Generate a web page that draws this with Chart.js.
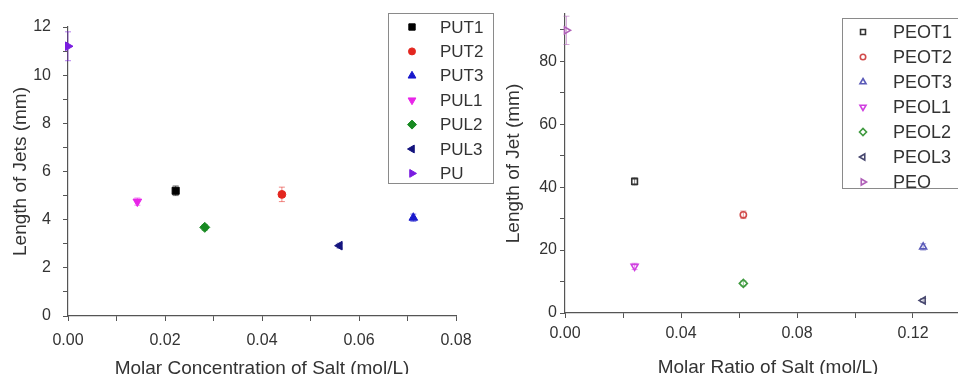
<!DOCTYPE html>
<html>
<head>
<meta charset="utf-8">
<script src="https://cdn.jsdelivr.net/npm/chart.js@4/dist/chart.umd.min.js"></script>
<style>
  html, body { margin: 0; padding: 0; background: #fff; }
  body { width: 958px; height: 374px; overflow: hidden; position: relative; }
  canvas { position: absolute; top: 0; }
  #left { left: 0; }
  #right { left: 480px; }
</style>
</head>
<body>
<canvas id="left" width="500" height="384"></canvas>
<canvas id="right" width="520" height="384"></canvas>
<script>
// left panel: PU fibres, molar concentration vs jet length
const puLabels = ['PUT1', 'PUT2', 'PUT3', 'PUL1', 'PUL2', 'PUL3', 'PU'];
const puX = [0.0222, 0.0441, 0.0712, 0.0143, 0.0282, 0.0560, 0.0];
const puY = [5.2, 5.05, 4.08, 4.75, 3.68, 2.92, 11.2];
const puErr = [0.2, 0.3, 0.15, 0.15, 0.12, 0.1, 0.6];
const puColors = ['#000000', '#e3261f', '#1818cc', '#e825e8', '#188a22', '#14147e', '#7a1ce0'];
const puStyles = ['rect', 'circle', 'triangle', 'triangle', 'rectRot', 'triangle', 'triangle'];
const puRot = [0, 0, 0, 180, 0, -90, 90];

// right panel: PEO fibres, molar ratio vs jet length
const peoLabels = ['PEOT1', 'PEOT2', 'PEOT3', 'PEOL1', 'PEOL2', 'PEOL3', 'PEO'];
const peoX = [0.024, 0.0615, 0.1235, 0.024, 0.0615, 0.1235, 0.0005];
const peoY = [41.8, 31.2, 21.0, 14.8, 9.4, 4.0, 89.8];
const peoErr = [1.2, 1.2, 1.0, 1.0, 0.8, 0.6, 4.5];
const peoColors = ['#333333', '#d14a4a', '#5a5ab8', '#d040e0', '#3f9a3f', '#46466e', '#b060b8'];
const peoStyles = ['rect', 'circle', 'triangle', 'triangle', 'rectRot', 'triangle', 'triangle'];
const peoRot = [0, 0, 0, 180, 0, -90, 90];

const FONT = 'Liberation Sans, Arial, sans-serif';
const TXT = '#333';
const AX = '#555';

Chart.defaults.font.family = FONT;
Chart.defaults.color = TXT;

// circles look bigger than the other shapes at the same radius
const sizeFor = (style, r) => style === 'circle' ? r * 0.78 : r;

function buildSets(labels, xs, ys, colors, styles, rots, filled, radius) {
  return labels.map((l, i) => ({
    label: l,
    data: [{ x: xs[i], y: ys[i] }],
    pointStyle: styles[i],
    rotation: rots[i],
    pointRadius: sizeFor(styles[i], radius),
    pointBorderWidth: filled ? 1 : 1.6,
    borderColor: colors[i],
    backgroundColor: filled ? colors[i] : 'rgba(255,255,255,0)',
    showLine: false,
    clip: false
  }));
}

// small vertical error bars under the markers
const errorBars = {
  id: 'errorBars',
  beforeDatasetsDraw(chart, args, opts) {
    const ctx = chart.ctx;
    const y = chart.scales.y;
    ctx.save();
    chart.data.datasets.forEach((ds, i) => {
      const meta = chart.getDatasetMeta(i);
      meta.data.forEach((pt, j) => {
        const v = ds.data[j].y, e = opts.errors[i];
        const y1 = y.getPixelForValue(v - e), y2 = y.getPixelForValue(v + e);
        ctx.strokeStyle = ds.borderColor;
        ctx.globalAlpha = 0.55;
        ctx.lineWidth = 1;
        ctx.beginPath();
        ctx.moveTo(pt.x, y1); ctx.lineTo(pt.x, y2);
        ctx.moveTo(pt.x - 3, y1); ctx.lineTo(pt.x + 3, y1);
        ctx.moveTo(pt.x - 3, y2); ctx.lineTo(pt.x + 3, y2);
        ctx.stroke();
      });
    });
    ctx.restore();
  }
};

// boxed legend sitting in the upper right of the plot
const boxLegend = {
  id: 'boxLegend',
  afterDraw(chart, args, o) {
    const ctx = chart.ctx;
    const a = chart.chartArea;
    const x0 = a.right + o.dx, y0 = o.top;
    ctx.save();
    ctx.strokeStyle = '#8a8a8a';
    ctx.lineWidth = 1;
    ctx.strokeRect(x0 + 0.5, y0 + 0.5, o.w, o.h);
    ctx.font = o.size + 'px ' + FONT;
    ctx.textBaseline = 'middle';
    chart.data.datasets.forEach((ds, i) => {
      const cy = y0 + o.first + i * o.step;
      ctx.fillStyle = ds.backgroundColor;
      ctx.strokeStyle = ds.borderColor;
      ctx.lineWidth = ds.pointBorderWidth;
      Chart.helpers.drawPoint(ctx, {
        pointStyle: ds.pointStyle, rotation: ds.rotation,
        radius: sizeFor(ds.pointStyle, o.r), borderWidth: ds.pointBorderWidth
      }, x0 + o.mx, cy);
      ctx.fillStyle = TXT;
      ctx.fillText(ds.label, x0 + o.tx, cy + 1);
    });
    ctx.restore();
  }
};

function axis(min, max, step, labelEvery, digits, tickPad, title, titlePad, size, fixed, isX) {
  return {
    type: 'linear',
    min: min, max: max,
    border: { color: AX, width: 1.2 },
    grid: { drawOnChartArea: false, drawTicks: true, tickLength: 5, color: AX },
    afterBuildTicks: s => {
      const t = [];
      for (let v = min; v <= max + 1e-9; v += step) t.push({ value: +v.toFixed(6) });
      s.ticks = t;
    },
    ticks: {
      padding: tickPad,
      color: TXT,
      font: { size: 16 },
      autoSkip: false,
      maxRotation: 0,
      callback: (v) => {
        const k = Math.round((v - min) / step);
        return k % labelEvery === 0 ? v.toFixed(digits) : '';
      }
    },
    title: { display: true, text: title, color: TXT, font: { size: size }, padding: titlePad },
    afterFit: s => { if (isX) s.height = fixed; else s.width = fixed; }
  };
}

new Chart(document.getElementById('left'), {
  type: 'scatter',
  data: { datasets: buildSets(puLabels, puX, puY, puColors, puStyles, puRot, true, 5) },
  options: {
    responsive: false, animation: false, devicePixelRatio: 1,
    layout: { padding: { left: 0, right: 44, top: 27, bottom: 0 } },
    plugins: {
      legend: { display: false }, tooltip: { enabled: false },
      errorBars: { errors: puErr },
      boxLegend: { dx: -68, top: 13, w: 105, h: 170, first: 14, step: 24.4, mx: 24, tx: 52, r: 4.5, size: 17 }
    },
    scales: {
      x: axis(0, 0.08, 0.01, 2, 2, 10, 'Molar Concentration of Salt (mol/L)', { top: 0, bottom: 4 }, 19, 68, true),
      y: axis(0, 12, 1, 2, 0, 12, 'Length of Jets (mm)', { top: 9, bottom: 0 }, 19, 68, false)
    }
  },
  plugins: [errorBars, boxLegend]
});

new Chart(document.getElementById('right'), {
  type: 'scatter',
  data: { datasets: buildSets(peoLabels, peoX, peoY, peoColors, peoStyles, peoRot, false, 4) },
  options: {
    responsive: false, animation: false, devicePixelRatio: 1,
    layout: { padding: { left: 0, right: 29, top: 14, bottom: 0 } },
    plugins: {
      legend: { display: false }, tooltip: { enabled: false },
      errorBars: { errors: peoErr },
      boxLegend: { dx: -129, top: 18, w: 140, h: 170, first: 14, step: 25, mx: 21, tx: 51, r: 3.5, size: 18 }
    },
    scales: {
      x: axis(0, 0.14, 0.02, 2, 2, 6, 'Molar Ratio of Salt (mol/L)', { top: 0, bottom: 5 }, 19, 71, true),
      y: axis(0, 95, 10, 2, 0, 3, 'Length of Jet (mm)', { top: 22, bottom: 0 }, 19, 85, false)
    }
  },
  plugins: [errorBars, boxLegend]
});
</script>
</body>
</html>
